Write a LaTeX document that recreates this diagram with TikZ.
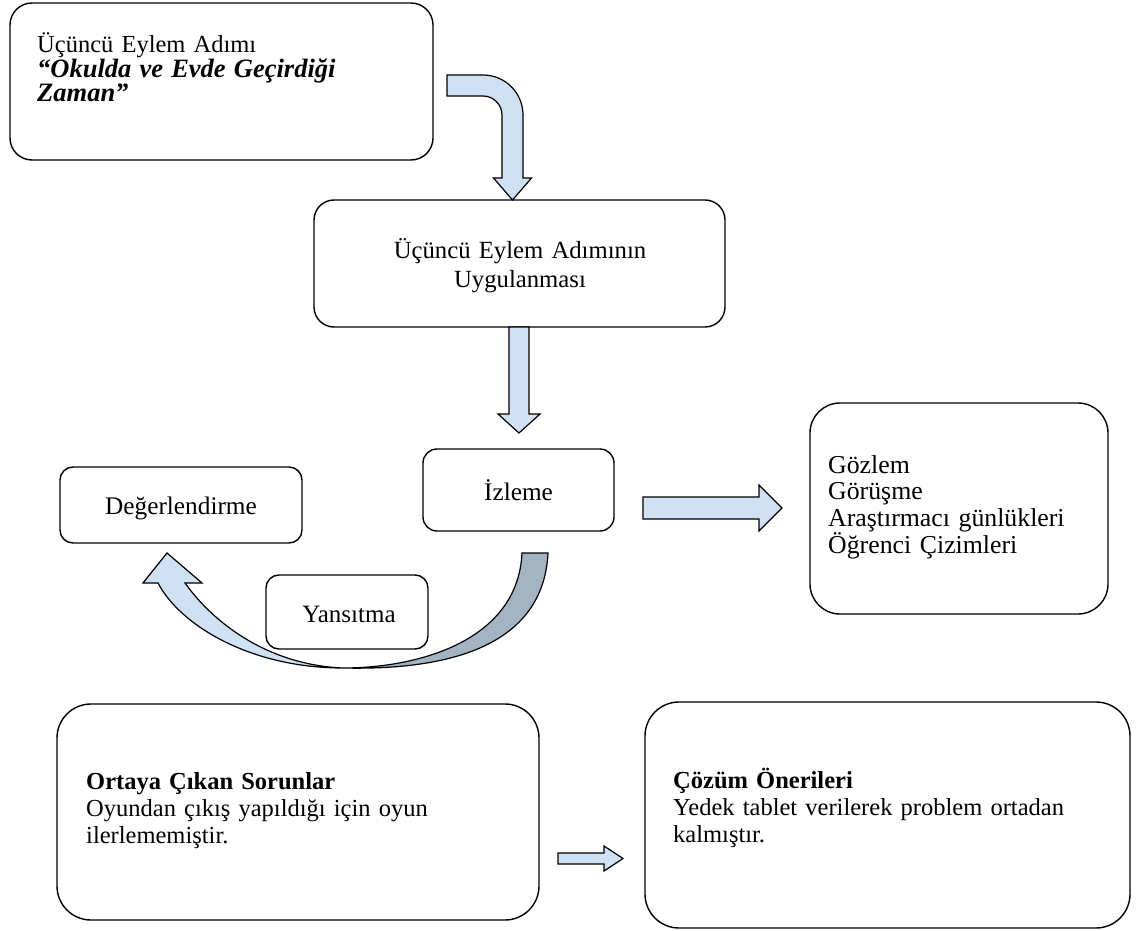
\documentclass[tikz,border=0pt]{standalone}
\usepackage{fontspec}
\setmainfont{Liberation Serif}
\definecolor{arrowblue}{HTML}{CFE1F3}
\definecolor{arrowgray}{HTML}{A4B3C2}
\begin{document}
\begin{tikzpicture}[x=1pt,y=-1pt,
  box/.style={draw=black, line width=1.4pt, rounded corners=#1, inner sep=0pt},
  box/.default=20pt,
  txt/.style={inner sep=0pt, align=left, text width=#1},
  ctxt/.style={inner sep=0pt, align=center, text width=#1},
  blockarrow/.style={fill=arrowblue, draw=black, line width=1.2pt, line join=miter},
  backarrow/.style={fill=arrowgray, draw=black, line width=1.2pt, line join=miter}]
\useasboundingbox (0,0) rectangle (1143,931);

% boxes
\node[box=22pt, minimum width=423pt, minimum height=157pt] (b1) at (221.5,81.5) {};
\node[box=20pt, minimum width=411pt, minimum height=127pt] (b2) at (519.5,263.5) {};
\node[box=14pt, minimum width=191pt, minimum height=82pt] (izl) at (518.5,490) {};
\node[box=13pt, minimum width=242pt, minimum height=76pt] (deg) at (181,505) {};
\node[box=13pt, minimum width=162pt, minimum height=74pt] (yan) at (347,612) {};
\node[box=30pt, minimum width=298pt, minimum height=211pt] (goz) at (959,508.5) {};
\node[box=34pt, minimum width=482pt, minimum height=216pt] (sor) at (298,812) {};
\node[box=34pt, minimum width=485pt, minimum height=226pt] (coz) at (887.5,815) {};

% texts
\node[txt=390pt, anchor=base west, font=\fontsize{24.5}{24}\selectfont] (t1) at (37,53)
  {Üçüncü Eylem Adımı\\{\fontsize{26.5}{23.5}\selectfont\textbf{\textit{“Okulda ve Evde Geçirdiği\\Zaman”}}}};
\node[ctxt=400pt, anchor=base, font=\fontsize{24.7}{29}\selectfont] (t2) at (520,258)
  {Üçüncü Eylem Adımının\\Uygulanması};
\node[inner sep=0pt, anchor=base, font=\fontsize{25.3}{27}\selectfont] (t3) at (518.5,500) {İzleme};
\node[inner sep=0pt, anchor=base, font=\fontsize{25.3}{27}\selectfont] (t4) at (181,514) {Değerlendirme};
\node[inner sep=0pt, anchor=base, font=\fontsize{25}{27}\selectfont] (t5) at (349,622) {Yansıtma};
\node[txt=280pt, anchor=base west, font=\fontsize{25.8}{26.7}\selectfont] (t6) at (828,473)
  {Gözlem\\Görüşme\\Araştırmacı günlükleri\\Öğrenci Çizimleri};
\node[txt=440pt, anchor=base west, font=\fontsize{24.5}{27}\selectfont] (t7) at (86,789)
  {\textbf{Ortaya Çıkan Sorunlar}\\Oyundan çıkış yapıldığı için oyun\\ilerlememiştir.};
\node[txt=440pt, anchor=base west, font=\fontsize{24.5}{27}\selectfont] (t8) at (673,788)
  {\textbf{Çözüm Önerileri}\\Yedek tablet verilerek problem ortadan\\kalmıştır.};

% bent arrow from the first box down to the second
\draw[blockarrow] (447,75) -- (483,75) .. controls (505.1,75) and (523,92.9) .. (523,115)
  -- (523,178) -- (531.5,178) -- (512.5,200) -- (493.5,178) -- (502,178) -- (502,115)
  .. controls (502,104.5) and (493.5,96) .. (483,96) -- (447,96) -- cycle;

% straight arrow down to the monitoring box
\draw[blockarrow] (509,327) -- (529,327) -- (529,414) -- (540,414) -- (519,433)
  -- (498,414) -- (509,414) -- cycle;

% arrow to the data-collection box
\draw[blockarrow] (643,497) -- (759,497) -- (759,485) -- (782,508) -- (759,531)
  -- (759,519) -- (643,519) -- cycle;

% curved reflection arrow: back ribbon and front ribbon with head
\draw[backarrow] (522,553) -- (548,553) .. controls (543,655) and (430,670) .. (343,668)
  .. controls (420,668) and (518,640) .. (522,553) -- cycle;
\draw[blockarrow] (143,583) -- (167,553) -- (202,583) -- (185,583)
  .. controls (215,625) and (270,665) .. (343,668)
  .. controls (250,668) and (180,625) .. (158,583) -- cycle;

% small arrow between the problem and solution boxes
\draw[blockarrow] (558,853) -- (604,853) -- (604,846) -- (623,858.5) -- (604,871)
  -- (604,864) -- (558,864) -- cycle;
\end{tikzpicture}
\end{document}
